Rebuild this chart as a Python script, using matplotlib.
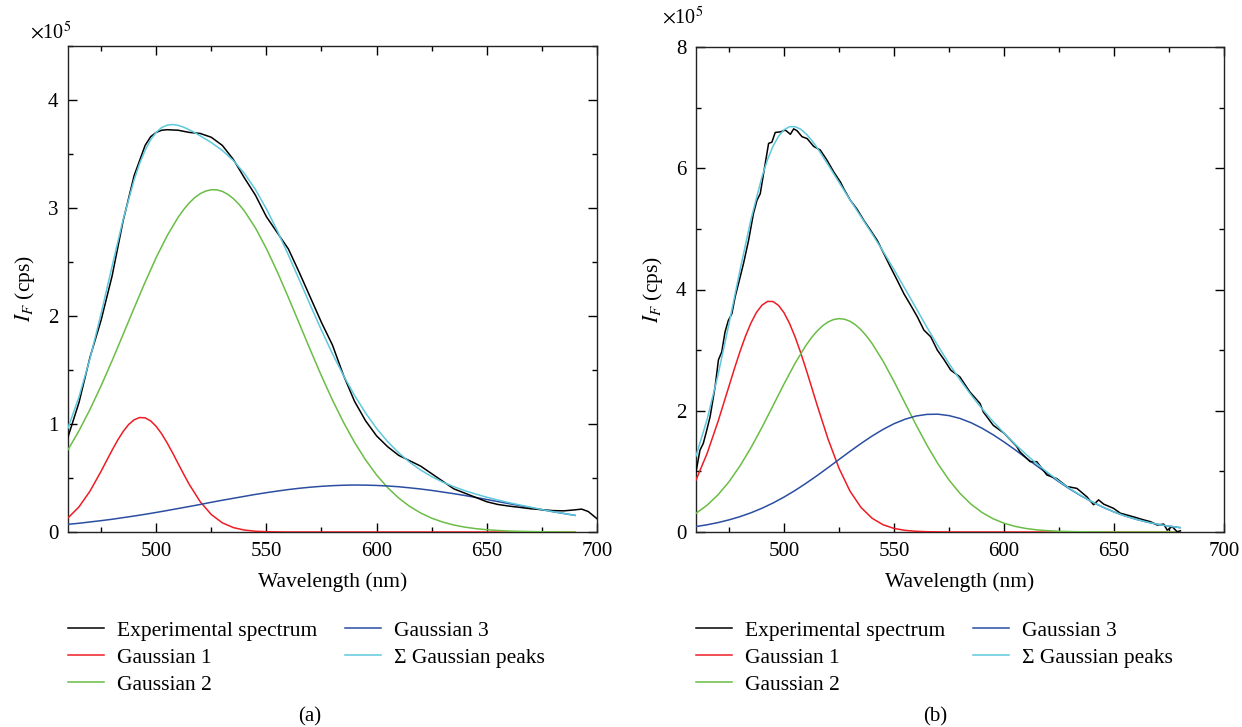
import matplotlib
matplotlib.use("Agg")
import matplotlib.pyplot as plt
from matplotlib.ticker import MultipleLocator

plt.rcParams['font.family'] = ['Liberation Serif', 'DejaVu Serif']
plt.rcParams['mathtext.fontset'] = 'stix'

# ---------------- Panel (a) ----------------
g1_a_x = [460, 465, 470, 475, 477.5, 480, 482.5, 485, 487.5, 490, 492.5, 495, 497.5, 500,
          502.5, 505, 507.5, 510, 512.5, 515, 520, 525, 530, 535, 540, 545, 550, 555, 560,
          570, 580, 600, 620, 640, 660, 680, 690]
g1_a = [0.130, 0.233, 0.379, 0.562, 0.660, 0.757, 0.849, 0.930, 0.995, 1.039, 1.060, 1.057,
        1.029, 0.978, 0.909, 0.824, 0.731, 0.632, 0.535, 0.441, 0.280, 0.162, 0.085, 0.041,
        0.018, 0.007, 0.003, 0.001, 0, 0, 0, 0, 0, 0, 0, 0, 0]
g2_a_x = [460, 465, 470, 475, 480, 485, 490, 495, 500, 505, 510,
          512.5, 515, 517.5, 520, 522.5, 525, 527.5, 530, 532.5, 535, 537.5, 540,
          545, 550, 555, 560, 565, 570, 575, 580, 585, 590, 595, 600, 605, 610, 615,
          620, 625, 630, 635, 640, 645, 650, 655, 660, 665, 670, 675, 680, 685, 690]
g2_a = [0.762, 0.938, 1.136, 1.353, 1.586, 1.829, 2.074, 2.314, 2.541, 2.744, 2.915,
        2.986, 3.047, 3.096, 3.133, 3.157, 3.169, 3.168, 3.154, 3.127, 3.087, 3.036, 2.973,
        2.817, 2.625, 2.407, 2.171, 1.927, 1.683, 1.445, 1.221, 1.015, 0.830, 0.668, 0.528,
        0.411, 0.315, 0.237, 0.176, 0.128, 0.092, 0.065, 0.045, 0.031, 0.021, 0.014, 0.009,
        0.006, 0.004, 0.002, 0.001, 0.001, 0.000]
g3_a_x = [460, 465, 470, 475, 480, 485, 490, 495, 500, 505, 510, 515, 520, 525, 530,
          535, 540, 545, 550, 555, 560, 565, 570, 575, 580, 585, 590, 595, 600, 605,
          610, 615, 620, 625, 630, 635, 640, 645, 650, 655, 660, 665, 670, 675, 680,
          685, 690]
g3_a = [0.071, 0.081, 0.093, 0.105, 0.118, 0.133, 0.148, 0.164, 0.181, 0.199, 0.2175,
        0.236, 0.255, 0.275, 0.294, 0.312, 0.330, 0.348, 0.364, 0.379, 0.393, 0.405,
        0.415, 0.423, 0.429, 0.433, 0.435, 0.434, 0.431, 0.426, 0.419, 0.409, 0.398,
        0.385, 0.370, 0.355, 0.338, 0.320, 0.301, 0.282, 0.263, 0.244, 0.225, 0.206,
        0.188, 0.171, 0.154]
sum_a_x = [460, 465, 470, 475, 480, 485, 490,
           492.5, 495, 497.5, 500, 502.5, 505, 507.5, 510, 512.5, 515, 517.5, 520,
           525, 530, 535, 540, 545, 550, 555, 560, 565, 570, 575, 580, 585, 590, 595,
           600, 605, 610, 615, 620, 625, 630, 635, 640, 645, 650, 655, 660, 665, 670,
           675, 680, 685, 690]
sum_a = [0.963, 1.252, 1.608, 2.020, 2.461, 2.892, 3.261,
         3.412, 3.535, 3.632, 3.700, 3.745, 3.767, 3.773, 3.765, 3.748, 3.724, 3.698, 3.668,
         3.606, 3.533, 3.440, 3.321, 3.172, 2.992, 2.787, 2.564, 2.332, 2.098, 1.868, 1.650,
         1.448, 1.265, 1.102, 0.959, 0.837, 0.734, 0.646, 0.574, 0.513, 0.462, 0.420, 0.383,
         0.351, 0.322, 0.296, 0.272, 0.250, 0.229, 0.208, 0.189, 0.172, 0.154]
exp_a_x = [460, 465, 470, 475, 480, 485, 490, 495, 497.5, 500, 502.5, 505, 510, 515, 520,
           525, 530, 535, 540, 545, 550, 555, 560, 565, 570, 575, 580, 585, 590, 595, 600,
           605, 610, 615, 620, 625, 630, 635, 640, 645, 650, 655, 660, 665, 670, 675, 680,
           685, 690, 693, 696, 700]
exp_a = [0.88, 1.20, 1.62, 1.96, 2.37, 2.88, 3.30, 3.58, 3.66, 3.70, 3.72, 3.725, 3.72,
         3.70, 3.69, 3.655, 3.58, 3.45, 3.28, 3.12, 2.92, 2.77, 2.62, 2.40, 2.17, 1.94,
         1.73, 1.45, 1.21, 1.03, 0.89, 0.79, 0.71, 0.66, 0.61, 0.54, 0.47, 0.40, 0.36,
         0.32, 0.28, 0.255, 0.24, 0.228, 0.215, 0.207, 0.198, 0.196, 0.205, 0.212, 0.19,
         0.123]

# ---------------- Panel (b) ----------------
g1_b_x = [460, 465, 470, 475, 477.5, 480, 482.5, 485, 487.5, 490, 492.5, 495, 497.5, 500,
          502.5, 505, 507.5, 510, 512.5, 515, 520, 525, 530, 535, 540, 545, 550, 555,
          560, 565, 570, 575, 580, 600, 620, 640, 660, 680]
g1_b = [0.857, 1.291, 1.821, 2.406, 2.699, 2.977, 3.231, 3.449, 3.623, 3.742, 3.803, 3.802,
        3.738, 3.617, 3.441, 3.221, 2.967, 2.687, 2.395, 2.099, 1.535, 1.052, 0.674, 0.405,
        0.228, 0.120, 0.059, 0.027, 0.012, 0.005, 0.002, 0.001, 0, 0, 0, 0, 0, 0]
g2_b_x = [460, 465, 470, 475, 480, 485, 490, 495, 500, 505, 510,
          512.5, 515, 517.5, 520, 522.5, 525, 527.5, 530, 532.5, 535, 537.5, 540,
          545, 550, 555, 560, 565, 570, 575, 580, 585, 590, 595, 600, 605, 610, 615,
          620, 625, 630, 635, 640, 645, 650, 655, 660, 665, 670, 675, 680]
g2_b = [0.308, 0.441, 0.613, 0.829, 1.090, 1.392, 1.727, 2.083, 2.441, 2.781, 3.079,
        3.206, 3.313, 3.400, 3.464, 3.504, 3.520, 3.510, 3.476, 3.417, 3.336, 3.233, 3.111,
        2.820, 2.484, 2.126, 1.769, 1.430, 1.124, 0.858, 0.637, 0.459, 0.322, 0.219, 0.145,
        0.093, 0.058, 0.035, 0.021, 0.012, 0.007, 0.004, 0.002, 0.001, 0, 0, 0, 0, 0, 0, 0]
g3_b_x = [460, 465, 470, 475, 480, 485, 490, 495, 500, 505, 510, 515, 520, 525, 530,
          535, 540, 545, 550, 555, 560, 565, 570, 575, 580, 585, 590, 595, 600, 605,
          610, 615, 620, 625, 630, 635, 640, 645, 650, 655, 660, 665, 670, 675, 680]
g3_b = [0.090, 0.119, 0.155, 0.200, 0.253, 0.317, 0.392, 0.478, 0.576, 0.684, 0.803,
        0.929, 1.061, 1.196, 1.330, 1.460, 1.582, 1.692, 1.786, 1.860, 1.913, 1.940,
        1.943, 1.920, 1.873, 1.803, 1.712, 1.605, 1.486, 1.357, 1.223, 1.088, 0.955,
        0.827, 0.707, 0.597, 0.497, 0.409, 0.331, 0.265, 0.210, 0.164, 0.126, 0.096,
        0.072]
sum_b_x = [460, 465, 470, 475, 480, 485, 490,
           492.5, 495, 497.5, 500, 502.5, 505, 507.5, 510, 512.5, 515,
           520, 525, 530, 535, 540, 545, 550, 555, 560, 565, 570, 575, 580, 585, 590,
           595, 600, 605, 610, 615, 620, 625, 630, 635, 640, 645, 650, 655, 660, 665,
           670, 675, 680]
sum_b = [1.255, 1.851, 2.589, 3.435, 4.320, 5.158, 5.861,
         6.141, 6.363, 6.527, 6.634, 6.685, 6.686, 6.646, 6.569, 6.466, 6.341,
         6.060, 5.768, 5.480, 5.201, 4.921, 4.632, 4.329, 4.013, 3.694, 3.375, 3.069,
         2.779, 2.510, 2.262, 2.034, 1.824, 1.631, 1.450, 1.281, 1.123, 0.976, 0.839,
         0.714, 0.601, 0.499, 0.410, 0.331, 0.265, 0.210, 0.164, 0.126, 0.096, 0.072]
exp_b_x = [460, 461.8, 463.3, 464.9, 466.4, 468.7, 470.2, 471.7, 473.2, 474.7, 476.3,
           477.8, 480.1, 481.6, 483.9, 486.1, 487.7, 489.2, 490.7, 493.0, 494.5, 496.0,
           498.3, 500.6, 502.9, 504.4, 505.9, 508.2, 510.5, 513.5, 516.5, 519.6, 522.6,
           525.7, 527.2, 530.2, 533.3, 536.3, 539.3, 542.4, 545.4, 548.4, 551.5, 554.5,
           557.6, 560.6, 563.6, 566.7, 569.7, 572.8, 575.8, 579.9, 584.5, 589.1, 590.6,
           595.1, 600.0, 605.8, 607.3, 611.9, 614.9, 619.5, 624.0, 628.6, 633.1, 637.7,
           640.7, 643.0, 645.3, 649.8, 652.9, 655.9, 658.9, 663.5, 666.6, 669.6, 672.6,
           674.2, 676.4, 678.7, 680.2]
exp_b = [0.99, 1.35, 1.46, 1.68, 1.90, 2.40, 2.84, 2.97, 3.30, 3.49, 3.60, 3.88, 4.21,
         4.43, 4.81, 5.25, 5.47, 5.58, 5.91, 6.41, 6.43, 6.59, 6.60, 6.63, 6.56, 6.65,
         6.62, 6.52, 6.49, 6.36, 6.30, 6.13, 5.94, 5.77, 5.66, 5.47, 5.32, 5.14, 4.98,
         4.81, 4.59, 4.37, 4.15, 3.93, 3.74, 3.55, 3.33, 3.22, 3.00, 2.84, 2.67, 2.56,
         2.31, 2.12, 1.98, 1.76, 1.63, 1.41, 1.32, 1.16, 1.16, 0.94, 0.88, 0.75, 0.72,
         0.58, 0.45, 0.53, 0.46, 0.39, 0.31, 0.28, 0.25, 0.20, 0.17, 0.115, 0.13, 0.03,
         0.09, 0.005, 0.02]

labels = ["Experimental spectrum", "Gaussian 1", "Gaussian 2", "Gaussian 3",
          "\u03a3 Gaussian peaks"]
colors = ["#000000", "#ee1c24", "#6abd45", "#2b4ea2", "#5ec8dc"]
captions = ["(a)", "(b)"]

W, H = 1242, 727
fig = plt.figure(figsize=(W / 100, H / 100), dpi=100)

def px(x0, y0, x1, y1):
    return [x0 / W, 1 - y1 / H, (x1 - x0) / W, (y1 - y0) / H]

ax_a = fig.add_axes(px(68, 46, 597, 532))
ax_b = fig.add_axes(px(696, 47, 1224, 532))

panels = [
    (ax_a, [(exp_a_x, exp_a), (g1_a_x, g1_a), (g2_a_x, g2_a), (g3_a_x, g3_a),
            (sum_a_x, sum_a)], 4.5, 1, 0.5),
    (ax_b, [(exp_b_x, exp_b), (g1_b_x, g1_b), (g2_b_x, g2_b), (g3_b_x, g3_b),
            (sum_b_x, sum_b)], 8.0, 2, 1),
]

for ax, series, ymax, ymaj, ymin in panels:
    handles = []
    for k, (xs, ys) in enumerate(series):
        z = 5 if k == 0 else (6 if k == 4 else 3)
        h, = ax.plot(xs, ys, color=colors[k], lw=1.1, zorder=z)
        handles.append(h)
    ax.set_xlim(460, 700)
    ax.set_ylim(0, ymax)
    ax.xaxis.set_major_locator(MultipleLocator(50))
    ax.xaxis.set_minor_locator(MultipleLocator(25))
    ax.yaxis.set_major_locator(MultipleLocator(ymaj))
    ax.yaxis.set_minor_locator(MultipleLocator(ymin))
    ax.tick_params(which='both', direction='in', top=True, right=True,
                   width=1.0, labelsize=15)
    ax.tick_params(which='major', length=6.5)
    ax.tick_params(which='minor', length=3.3)
    ax.tick_params(axis='x', pad=7)
    ax.tick_params(axis='y', pad=7)
    for s in ax.spines.values():
        s.set_linewidth(1.0)
        s.set_color('#222222')
    ax.set_xlabel("Wavelength (nm)", fontsize=15.5, labelpad=8)
    ax.set_ylabel("$I_F$ (cps)", fontsize=15.5, labelpad=8)
    ax.yaxis.set_major_formatter(plt.FuncFormatter(lambda v, p: f"{v:g}"))

    ax.legend(handles, labels, ncol=2, frameon=False,
              loc='upper left', bbox_to_anchor=(0.0, -0.183),
              fontsize=15.5, handlelength=1.67, handletextpad=0.6,
              columnspacing=1.3, labelspacing=0.32, borderpad=0,
              borderaxespad=0)

fig.text(30 / W, 1 - 33 / H, r"$\times$10$^5$", fontsize=14.5, va='center', ha='left')
fig.text(662 / W, 1 - 18 / H, r"$\times$10$^5$", fontsize=14.5, va='center', ha='left')
fig.text(310 / W, 1 - 717 / H, captions[0], fontsize=15, ha='center', va='center')
fig.text(935 / W, 1 - 717 / H, captions[1], fontsize=15, ha='center', va='center')

fig.savefig("out.png", dpi=100)
